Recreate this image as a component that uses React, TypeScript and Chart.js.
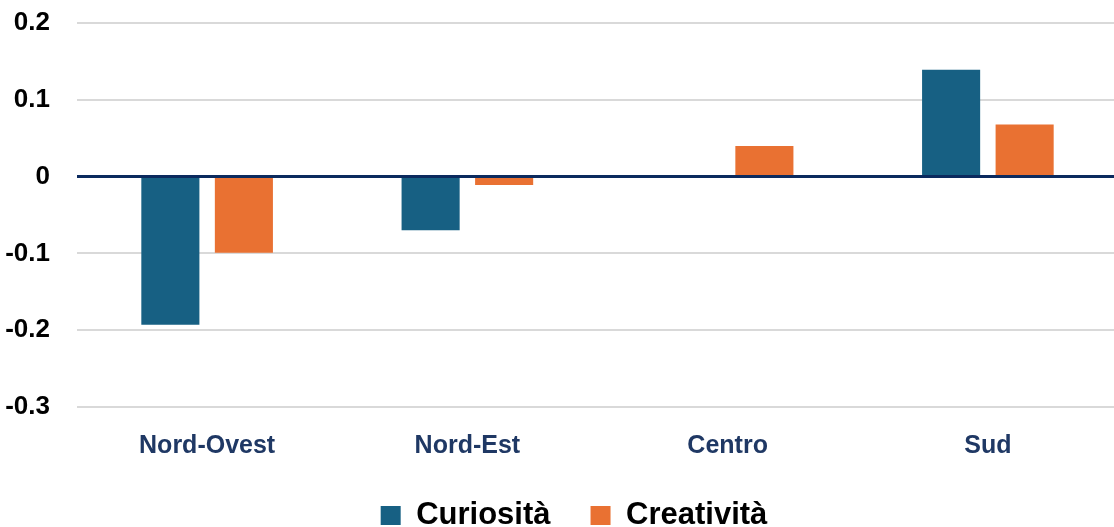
import React, { useEffect, useRef } from "react";
import { Chart, registerables } from "chart.js";

Chart.register(...registerables);

const categories = ["Nord-Ovest", "Nord-Est", "Centro", "Sud"];
const curiosita = [-0.193, -0.07, 0, 0.139];
const creativita = [-0.099, -0.011, 0.04, 0.068];
const seriesNames = ["Curiosità", "Creatività"];
const yMin = -0.3;
const yMax = 0.2;
const yStep = 0.1;

const legendTweak = {
  id: "legendTweak",
  afterInit(chart: any) {
    const lg = chart.legend;
    if (!lg) return;
    const origFit = lg.fit;
    lg.fit = function () {
      origFit.call(this);
      this.height = 69;
    };
    const origDraw = lg.draw;
    lg.draw = function (...args: any[]) {
      const ctx = chart.ctx;
      ctx.save();
      ctx.translate(20, 2);
      origDraw.apply(this, args);
      ctx.restore();
    };
  },
};

export default function App() {
  const ref = useRef<HTMLCanvasElement | null>(null);

  useEffect(() => {
    if (!ref.current) return;
    const chart = new Chart(ref.current, {
      type: "bar",
      plugins: [legendTweak],
      data: {
        labels: categories,
        datasets: [
          {
            label: seriesNames[0],
            data: curiosita,
            backgroundColor: "#176083",
            categoryPercentage: 0.565,
            barPercentage: 0.79,
          },
          {
            label: seriesNames[1],
            data: creativita,
            backgroundColor: "#e97132",
            categoryPercentage: 0.565,
            barPercentage: 0.79,
          },
        ],
      },
      options: {
        animation: false,
        responsive: true,
        maintainAspectRatio: false,
        layout: { padding: { top: 23, right: 12, bottom: 0, left: 0 } },
        plugins: {
          tooltip: { enabled: false },
          legend: {
            position: "bottom",
            labels: {
              color: "#000000",
              font: { family: "Liberation Sans, Arial, sans-serif", size: 31, weight: "bold" },
              boxWidth: 20,
              boxHeight: 19,
              padding: 40,
            },
          },
        },
        scales: {
          x: {
            grid: { display: false, drawTicks: false },
            border: { display: false },
            afterFit: (scale: any) => {
              scale.height = 51;
            },
            ticks: {
              color: "#1f3864",
              padding: 24,
              font: { family: "Liberation Sans, Arial, sans-serif", size: 25, weight: "bold" },
            },
          },
          y: {
            min: yMin,
            max: yMax,
            afterFit: (scale: any) => {
              scale.width = 87;
              scale.paddingTop = 0;
              scale.paddingBottom = 0;
            },
            grid: {
              drawTicks: false,
              color: (ctx: any) => (ctx.tick && Math.abs(ctx.tick.value) < 1e-9 ? "#0b2a5e" : "#d9d9d9"),
              lineWidth: (ctx: any) => (ctx.tick && Math.abs(ctx.tick.value) < 1e-9 ? 3 : 2),
            },
            border: { display: false },
            ticks: {
              stepSize: yStep,
              padding: 27,
              color: "#000000",
              font: { family: "Liberation Sans, Arial, sans-serif", size: 26, weight: "bold" },
              callback: (v: any) => {
                const n = Math.round(Number(v) * 10) / 10;
                return n === 0 ? "0" : n.toFixed(1);
              },
            },
          },
        },
      },
    });
    return () => chart.destroy();
  }, []);

  return (
    <div style={{ position: "fixed", left: 0, top: 0, width: 1114, height: 527, overflow: "hidden", background: "#ffffff" }}>
      <div style={{ position: "absolute", left: -10, top: 0, width: 1140, height: 527 }}>
        <canvas ref={ref} />
      </div>
    </div>
  );
}
